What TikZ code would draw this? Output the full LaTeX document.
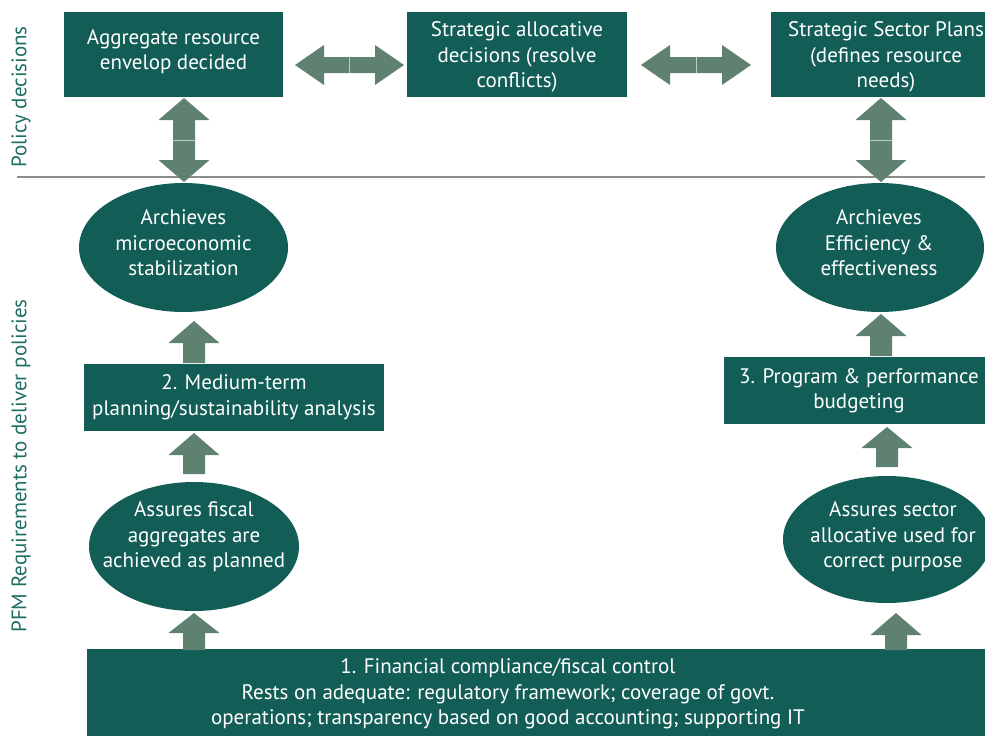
\documentclass[tikz,border=0pt]{standalone}
\usepackage{fontspec}
\setmainfont{PT Sans}
\usetikzlibrary{shapes.geometric}
\definecolor{boxc}{HTML}{125E56}
\definecolor{arrc}{HTML}{5F8270}
\definecolor{labc}{HTML}{1E6E62}
\definecolor{linec}{HTML}{8C8C8C}
\newcommand\blkup[4]{% x, tip, head base, bottom
  \fill[arrc] (#1,#2) -- (#1+25.5,#3) -- (#1+11,#3) -- (#1+11,#4) -- (#1-11,#4) -- (#1-11,#3) -- (#1-25.5,#3) -- cycle;}
\newcommand\blkvdouble[1]{% x
  \blkup{#1}{98}{120}{140}
  \blkup{#1}{182}{160}{140}
  \draw[arrc!40!white, line width=0.6] (#1-11,140) -- (#1+11,140);}
\newcommand\blkhdouble[3]{% left tip, right tip, y
  \fill[arrc] (#1,#3) -- (#1+29,#3-20) -- (#1+29,#3-8) -- (#2-29,#3-8) -- (#2-29,#3-20) -- (#2,#3) -- (#2-29,#3+20) -- (#2-29,#3+8) -- (#1+29,#3+8) -- (#1+29,#3+20) -- cycle;
  \draw[arrc!40!white, line width=0.6] ({(#1+#2)/2},#3-8) -- ({(#1+#2)/2},#3+8);}
\begin{document}
\begin{tikzpicture}[x=1pt,y=-1pt,
  txt/.style={text=white, align=center, font=\fontsize{21}{25.5}\selectfont, inner sep=0},
  sidelab/.style={text=labc, rotate=90, font=\fontsize{21}{24}\selectfont, inner sep=0}]
\useasboundingbox (0,0) rectangle (985,736);
% boxes
\fill[boxc] (64,12) rectangle (283,97);
\fill[boxc] (407,12) rectangle (627,97);
\fill[boxc] (771,12) rectangle (1010,97);
\fill[boxc] (84,364) rectangle (384,431);
\fill[boxc] (724,357) rectangle (994,424);
\fill[boxc] (87,649) rectangle (1000,740);
\node[txt] (b1) at (173.5,51.5) {Aggregate resource\\envelop decided};
\node[txt] (b2) at (517,57) {Strategic allocative\\decisions (resolve\\conflicts)};
\node[txt] (b3) at (886,57) {Strategic Sector Plans\\(defines resource\\needs)};
\node[txt] (m2) at (234,397) {2. Medium-term\\planning/sustainability analysis};
\node[txt] (p3) at (859,390.5) {3. Program \& performance\\budgeting};
\node[txt] (f1) at (508,694) {1. Financial compliance/fiscal control\\Rests on adequate: regulatory framework; coverage of govt.\\operations; transparency based on good accounting; supporting IT};
% ellipses
\fill[boxc] (183.5,247.5) ellipse [x radius=104.5, y radius=64.5];
\fill[boxc] (194,546.5) ellipse [x radius=105, y radius=64.5];
\fill[boxc] (880,247.5) ellipse [x radius=104, y radius=64.5];
\fill[boxc] (887,539.5) ellipse [x radius=104, y radius=63.5];
\node[txt] (e1) at (183.5,243) {Archieves\\microeconomic\\stabilization};
\node[txt] (e2) at (194,537) {Assures fiscal\\aggregates are\\achieved as planned};
\node[txt] (e3) at (879,243) {Archieves\\Efficiency \&\\effectiveness};
\node[txt] (e4) at (893,537) {Assures sector\\allocative used for\\correct purpose};
% separator line and side labels
\coordinate (ls) at (17,177);
\coordinate (le) at (985,177);
\draw[linec, line width=1.3] (ls) -- (le);
\node[sidelab] (pd) at (21,97) {Policy decisions};
\node[sidelab] (pfm) at (21,466) {PFM Requirements to deliver policies};
% block arrows
\blkhdouble{295}{404}{65}
\blkhdouble{641}{751}{65}
\blkvdouble{184}
\blkvdouble{881}
\blkup{194}{321}{343}{363}
\blkup{194}{433}{455}{474}
\blkup{194}{613}{633}{650}
\blkup{881}{314}{336}{356}
\blkup{887}{427}{448}{467}
\blkup{896}{613}{635}{650}
\end{tikzpicture}
\end{document}
